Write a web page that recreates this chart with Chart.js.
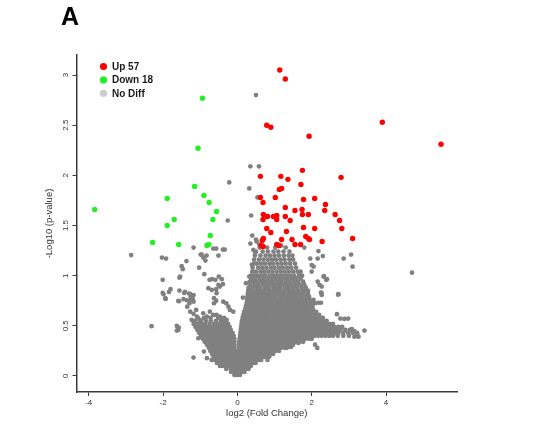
<!DOCTYPE html>
<html>
<head>
<meta charset="utf-8">
<script src="https://cdn.jsdelivr.net/npm/chart.js@4.4.1/dist/chart.umd.min.js"></script>
<style>
  html, body { margin: 0; padding: 0; background: #ffffff; }
  #wrap { position: relative; width: 550px; height: 424px; }
</style>
</head>
<body>
<div id="wrap"><canvas id="c"></canvas></div>
<script>
// ---------- DATA ----------
const panelLabel = 'A';
const xTitle = 'log2 (Fold Change)';
const yTitle = '-Log10 (p-value)';
const xTickValues = [-4, -2, 0, 2, 4];
const yTickValues = [0, 0.5, 1, 1.5, 2, 2.5, 3];
const xRange = [-4.33, 5.91];
const yRange = [-0.16, 3.2];

const legendLabels = ['Up 57', 'Down 18', 'No Diff'];
const legendColors = ['#ff0000', '#22f022', '#cccccc'];

// up-regulated [log2FC, -log10 p]
const upPoints = [
  [1.14,3.05],[1.29,2.96],[0.79,2.50],[0.90,2.48],[3.90,2.53],[1.93,2.39],[5.48,2.31],
  [1.75,2.05],[0.62,1.99],[1.17,1.99],[1.36,1.96],[2.79,1.98],[1.71,1.91],[1.13,1.86],
  [1.19,1.87],[0.62,1.78],[1.02,1.78],[0.69,1.73],[1.78,1.76],[2.08,1.77],[2.37,1.71],
  [1.29,1.68],[1.55,1.65],[1.74,1.66],[2.35,1.65],[0.70,1.61],[0.81,1.59],[0.97,1.59],
  [1.06,1.60],[1.29,1.59],[1.75,1.61],[1.91,1.61],[2.63,1.61],[0.69,1.56],[1.06,1.56],
  [1.42,1.55],[2.75,1.55],[1.78,1.48],[2.08,1.47],[0.79,1.47],[0.90,1.43],[1.32,1.44],
  [2.81,1.47],[1.84,1.39],[1.91,1.37],[1.94,1.36],[0.70,1.37],[0.67,1.35],[1.19,1.36],
  [1.47,1.36],[2.28,1.34],[3.10,1.37],[0.64,1.30],[0.69,1.29],[1.06,1.31],[1.12,1.30],
  [1.55,1.31],[1.70,1.31]
];

// down-regulated
const downPoints = [
  [-0.94,2.77],[-1.06,2.27],[-1.15,1.89],[-1.89,1.77],[-0.90,1.80],[-0.76,1.73],
  [-3.84,1.66],[-0.56,1.64],[-1.70,1.56],[-0.66,1.56],[-1.89,1.50],[-0.73,1.40],
  [-2.28,1.33],[-1.58,1.31],[-0.77,1.31],[-0.82,1.30]
];

// no difference: isolated points
const noDiffScatter = [
  [0.50,2.80],[0.35,2.09],[0.58,2.09],[-0.22,1.93],[0.32,1.87],[0.54,1.78],[0.37,1.60],
  [-0.26,1.55],[0.40,1.40],[0.50,1.36],[0.35,1.32],[0.59,1.31],[1.18,1.30],[1.80,1.28],[0.52,1.34],
  [4.70,1.03],[2.86,1.17],[3.06,1.21],[3.10,1.09],[2.71,0.81],[2.33,0.995],[2.39,0.958],
  [2.26,0.828],[2.18,0.73],[2.25,0.73],[2.68,0.616],[2.77,0.572],[2.88,0.569],[2.98,0.572],
  [3.42,0.452],[3.23,0.40],[3.15,0.446],[3.08,0.466],[2.09,0.312],[2.15,0.279],[1.37,0.289],
  [1.44,0.289],[1.64,0.329],[1.06,0.262],[2.18,1.245],[2.30,1.195],[2.16,1.17],[1.96,1.17],
  [2.00,1.105],[2.05,1.091],[2.00,1.041],[2.32,0.991],[2.41,0.965],[2.16,0.941],[2.21,0.908],
  [2.27,0.891],[2.25,0.831],[2.27,0.808],[2.72,0.815],[2.05,0.758],[2.09,0.725],[3.22,0.426],
  [3.15,0.392],[3.26,0.392],[0.97,0.276],[0.86,0.193],[0.81,0.16],[0.15,0.781],[0.23,0.925],
  [0.32,0.991],[0.39,1.108],[0.48,1.225],[0.43,1.257],
  [-2.86,1.205],[-2.03,1.18],[-1.92,1.17],[-2.01,0.958],[-1.80,0.865],[-1.84,0.838],[-2.01,0.828],
  [-1.99,0.815],[-1.93,0.768],[-2.31,0.496],[-1.63,0.499],[-1.58,0.482],[-1.59,0.459],[-1.63,0.452],
  [-1.18,0.183],[-0.82,0.177],[-0.90,0.243],[-0.69,0.16],[-1.50,1.095],[-1.37,1.145],[-1.47,1.065],
  [-1.18,1.28],[-0.96,1.21],[-0.99,1.21],[-0.92,1.18],[-0.83,1.20],[-1.03,1.08],[-0.86,1.15],
  [-0.65,1.27],[-0.57,1.27],[-0.51,1.20],[-0.39,1.26],[-0.34,1.26],[-1.54,0.99],[-1.56,0.98],
  [-0.89,1.015],[-0.75,0.958],[-0.68,0.965],[-0.59,0.958],[-0.50,0.991],[-0.39,0.915],[-0.42,0.965],
  [-1.41,0.838],[-1.30,0.821],[-1.36,0.755],[-1.57,0.745],[-1.26,0.788],[-1.20,0.765],[-1.56,0.851],
  [-1.43,0.828],[-1.27,0.815],[-1.18,0.805],[-1.59,0.748],[-1.45,0.765],[-1.94,0.775],[-0.78,0.875],
  [-0.69,0.858],[-0.57,0.865],[-0.47,0.891],[-0.56,0.825],[-0.51,0.908],[-1.25,0.758],[-1.18,0.741],
  [-1.29,0.725],[-0.63,0.775],[-0.57,0.751],[-0.63,0.725],[-0.38,0.741],[-0.30,0.725],[-0.24,0.691],
  [-0.20,0.658],[-0.11,0.641],[-1.35,0.691],[-1.27,0.641],[-1.18,0.619],[-1.11,0.658],[-1.09,0.591],
  [-1.02,0.559],[-1.23,0.559],[-0.92,0.625],[-0.82,0.591],[-0.74,0.641],[-0.65,0.608],[-0.56,0.608],
  [-0.47,0.591],[-0.42,0.559],[-0.38,0.526],[-0.29,0.559],[-1.09,0.476],[-1.01,0.442],[-0.87,0.492],
  [-0.92,0.426],[-0.78,0.459],[-1.05,0.376],[-0.96,0.392]
];

// no difference: dense cloud, read row by row as [y, x, x, ...]
const noDiffRows = [
  [0.01,-0.08,0.0,0.07],
  [0.04,-0.17,-0.08,0.01,0.1,0.19],
  [0.07,-0.3,-0.18,-0.08,0.02,0.12,0.22,0.3],
  [0.10,-0.47,-0.4,-0.33,-0.23,-0.13,-0.03,0.07,0.17,0.27,0.36],
  [0.13,-0.55,-0.48,-0.38,-0.28,-0.18,-0.08,0.02,0.12,0.22,0.32,0.42,0.49],
  [0.16,-0.6,-0.53,-0.43,-0.33,-0.23,-0.13,-0.03,0.07,0.17,0.27,0.37,0.47,0.57,0.64],
  [0.19,-0.64,-0.58,-0.48,-0.38,-0.28,-0.18,-0.08,0.02,0.12,0.22,0.32,0.42,0.52,0.62,0.72,0.8],
  [0.22,-0.68,-0.63,-0.53,-0.43,-0.33,-0.23,-0.13,-0.03,0.07,0.17,0.27,0.37,0.47,0.57,0.67,0.77,0.87,0.96],
  [0.25,-0.73,-0.68,-0.58,-0.48,-0.38,-0.28,-0.18,-0.08,0.02,0.12,0.22,0.32,0.42,0.52,0.62,0.72,0.82,0.92,1.02,1.12],
  [0.28,-0.77,-0.7,-0.63,-0.53,-0.43,-0.33,-0.23,-0.13,-0.08,0.04,0.1,0.17,0.27,0.37,0.47,0.57,0.67,0.77,0.87,0.97,1.07,1.17,1.27,1.33],
  [0.31,-0.82,-0.78,-0.68,-0.58,-0.48,-0.38,-0.28,-0.18,-0.08,0.04,0.12,0.22,0.32,0.42,0.52,0.62,0.72,0.82,0.92,1.02,1.12,1.22,1.32,1.42,1.5],
  [0.34,-0.88,-0.83,-0.73,-0.63,-0.53,-0.43,-0.33,-0.23,-0.13,-0.08,0.05,0.11,0.17,0.27,0.37,0.47,0.57,0.67,0.77,0.87,0.97,1.07,1.17,1.27,1.37,1.47,1.57,1.67,1.77],
  [0.37,-0.93,-0.88,-0.78,-0.68,-0.58,-0.48,-0.38,-0.28,-0.18,-0.08,0.06,0.12,0.22,0.32,0.42,0.52,0.62,0.72,0.82,0.92,1.02,1.12,1.22,1.32,1.42,1.52,1.62,1.72,1.82,1.92,2.0],
  [0.40,-0.98,-0.93,-0.83,-0.73,-0.63,-0.53,-0.43,-0.33,-0.23,-0.13,-0.1,0.07,0.17,0.27,0.37,0.47,0.57,0.67,0.77,0.87,0.97,1.07,1.17,1.27,1.37,1.47,1.57,1.67,1.77,1.87,1.97,2.07,2.17,2.27,2.37,2.47,2.57,2.7,2.85,3.0],
  [0.43,-1.03,-0.98,-0.88,-0.78,-0.68,-0.58,-0.48,-0.38,-0.28,-0.18,-0.13,0.08,0.14,0.22,0.32,0.42,0.52,0.62,0.72,0.82,0.92,1.02,1.12,1.22,1.32,1.42,1.52,1.62,1.72,1.82,1.92,2.02,2.12,2.22,2.32,2.42,2.52,2.62,2.72,2.85,2.98,3.1,3.22],
  [0.46,-1.08,-1.03,-0.93,-0.83,-0.73,-0.63,-0.53,-0.43,-0.33,-0.23,-0.18,0.09,0.17,0.27,0.37,0.47,0.57,0.67,0.77,0.87,0.97,1.07,1.17,1.27,1.37,1.47,1.57,1.67,1.77,1.87,1.97,2.07,2.17,2.27,2.37,2.47,2.57,2.67,2.77,2.9,3.02],
  [0.49,-1.13,-1.08,-0.98,-0.88,-0.78,-0.68,-0.58,-0.48,-0.38,-0.28,-0.21,0.1,0.16,0.22,0.32,0.42,0.52,0.62,0.72,0.82,0.92,1.02,1.12,1.22,1.32,1.42,1.52,1.62,1.72,1.82,1.92,2.02,2.12,2.22,2.32,2.42,2.52,2.62,2.72,2.82],
  [0.52,-1.18,-1.07,-0.97,-0.87,-0.75,-0.63,-0.53,-0.43,-0.33,-0.25,0.11,0.17,0.27,0.37,0.47,0.57,0.67,0.77,0.87,0.97,1.07,1.17,1.27,1.37,1.47,1.57,1.67,1.77,1.87,1.97,2.07,2.17,2.27,2.37,2.47,2.57],
  [0.55,-1.14,-0.98,-0.85,-0.72,-0.58,-0.45,-0.32,0.12,0.22,0.32,0.42,0.52,0.62,0.72,0.82,0.92,1.02,1.12,1.22,1.32,1.42,1.52,1.62,1.72,1.82,1.92,2.02,2.12,2.22,2.32,2.4],
  [0.58,-1.06,-0.9,-0.72,-0.52,-0.36,0.14,0.2,0.27,0.37,0.47,0.57,0.67,0.77,0.87,0.97,1.07,1.17,1.27,1.37,1.47,1.57,1.67,1.77,1.87,1.97,2.07,2.17,2.27,2.3],
  [0.61,0.16,0.22,0.32,0.42,0.52,0.62,0.72,0.82,0.92,1.02,1.12,1.22,1.32,1.42,1.52,1.62,1.72,1.82,1.92,2.02,2.12,2.2],
  [0.64,0.18,0.27,0.37,0.47,0.57,0.67,0.77,0.87,0.97,1.07,1.17,1.27,1.37,1.47,1.57,1.67,1.77,1.87,1.97,2.07,2.12],
  [0.67,0.21,0.32,0.42,0.52,0.62,0.72,0.82,0.92,1.02,1.12,1.22,1.32,1.42,1.52,1.62,1.72,1.82,1.92,2.03],
  [0.70,0.23,0.3,0.37,0.47,0.57,0.67,0.77,0.87,0.97,1.07,1.17,1.27,1.37,1.47,1.57,1.67,1.77,1.87,1.97,2.02],
  [0.73,0.25,0.32,0.42,0.52,0.62,0.72,0.82,0.92,1.02,1.12,1.22,1.32,1.42,1.52,1.62,1.72,1.82,1.92,1.98],
  [0.76,0.26,0.37,0.47,0.57,0.67,0.77,0.87,0.97,1.07,1.17,1.27,1.37,1.47,1.57,1.67,1.77,1.87,1.95],
  [0.79,0.27,0.33,0.43,0.52,0.62,0.71,0.82,0.92,1.02,1.13,1.22,1.33,1.42,1.53,1.62,1.73,1.84,1.93],
  [0.82,0.28,0.38,0.48,0.58,0.68,0.77,0.88,0.97,1.08,1.18,1.27,1.38,1.48,1.57,1.68,1.78,1.9],
  [0.85,0.29,0.34,0.43,0.53,0.63,0.72,0.83,0.93,1.03,1.12,1.23,1.34,1.43,1.52,1.63,1.74,1.83,1.9],
  [0.88,0.3,0.41,0.53,0.62,0.75,0.84,0.97,1.07,1.16,1.29,1.38,1.5,1.61,1.73,1.84],
  [0.91,0.35,0.47,0.57,0.69,0.8,0.9,1.02,1.12,1.23,1.34,1.45,1.56,1.68,1.8],
  [0.94,0.33,0.42,0.52,0.64,0.74,0.86,0.96,1.08,1.18,1.3,1.4,1.52,1.63,1.77],
  [0.97,0.38,0.48,0.6,0.7,0.81,0.92,1.03,1.14,1.25,1.35,1.47,1.58,1.7],
  [1.00,0.36,0.45,0.55,0.66,0.76,0.88,0.98,1.09,1.2,1.31,1.42,1.53,1.66,1.74],
  [1.04,0.4,0.5,0.62,0.72,0.83,0.94,1.05,1.16,1.27,1.38,1.5,1.62,1.7],
  [1.08,0.41,0.56,0.67,0.78,0.9,1.0,1.12,1.22,1.34,1.45,1.58],
  [1.12,0.44,0.52,0.63,0.74,0.86,0.96,1.08,1.19,1.3,1.42,1.55],
  [1.16,0.45,0.58,0.7,0.82,0.93,1.04,1.16,1.27,1.4,1.5],
  [1.20,0.47,0.62,0.76,0.88,1.0,1.12,1.25,1.38,1.48],
  [1.24,0.5,0.68,0.82,0.97,1.1,1.24,1.4],
  [1.28,0.6,0.8,1.02,1.3]
];

// ---------- BUILD ----------
const toXY = arr => arr.map(([x, y]) => ({ x, y }));
const noDiffPoints = toXY(noDiffScatter).concat(
  noDiffRows.flatMap(([y, ...xs]) => xs.map(x => ({ x, y })))
);

const FONT = '"Liberation Sans", Arial, Helvetica, sans-serif';
const AXIS_COLOR = '#3a3a3a';

const panelTitle = {
  id: 'panelTitle',
  afterDraw(chart) {
    const ctx = chart.ctx;
    ctx.save();
    ctx.font = 'bold 25px ' + FONT;
    ctx.fillStyle = '#000000';
    ctx.textAlign = 'left';
    ctx.textBaseline = 'alphabetic';
    ctx.fillText(panelLabel, 61, 24.5);
    ctx.restore();
  }
};

const insetLegend = {
  id: 'insetLegend',
  afterDatasetsDraw(chart) {
    const { ctx, chartArea } = chart;
    ctx.save();
    ctx.font = 'bold 10px ' + FONT;
    ctx.textAlign = 'left';
    ctx.textBaseline = 'middle';
    legendLabels.forEach((lab, i) => {
      const cx = chartArea.left + 27;
      const cy = chartArea.top + 11.5 + i * 13.4;
      ctx.beginPath();
      ctx.arc(cx, cy, 3.6, 0, Math.PI * 2);
      ctx.fillStyle = legendColors[i];
      ctx.fill();
      ctx.fillStyle = '#1a1a1a';
      ctx.fillText(lab, cx + 8.5, cy + 0.5);
    });
    ctx.restore();
  }
};

new Chart(document.getElementById('c'), {
  type: 'scatter',
  data: {
    datasets: [
      { label: legendLabels[0], data: toXY(upPoints), backgroundColor: '#ff0000',
        pointRadius: 2.7, pointBorderWidth: 0 },
      { label: legendLabels[1], data: toXY(downPoints), backgroundColor: '#22f022',
        pointRadius: 2.7, pointBorderWidth: 0 },
      { label: legendLabels[2], data: noDiffPoints, backgroundColor: '#808080',
        pointRadius: 2.35, pointBorderWidth: 0 }
    ]
  },
  options: {
    responsive: true,
    maintainAspectRatio: false,
    animation: false,
    events: [],
    layout: { padding: { top: 55, right: 93, left: 0, bottom: 0 } },
    plugins: { legend: { display: false }, tooltip: { enabled: false }, title: { display: false } },
    scales: {
      x: {
        type: 'linear',
        min: xRange[0], max: xRange[1],
        afterBuildTicks: s => { s.ticks = xTickValues.map(v => ({ value: v })); },
        afterFit: s => { s.height = 32; },
        grid: { display: true, drawOnChartArea: false, drawTicks: true, tickLength: 4,
                color: AXIS_COLOR, lineWidth: 1 },
        border: { display: true, color: AXIS_COLOR, width: 1.5 },
        ticks: { color: '#333333', font: { family: FONT, size: 8 }, padding: 2,
                 maxRotation: 0, minRotation: 0, callback: v => String(v) },
        title: { display: true, text: xTitle, color: '#333333',
                 font: { family: FONT, size: 9.5 }, padding: { top: 0, bottom: 5 } }
      },
      y: {
        type: 'linear',
        min: yRange[0], max: yRange[1],
        afterBuildTicks: s => { s.ticks = yTickValues.map(v => ({ value: v })); },
        afterFit: s => { s.width = 76.5; },
        grid: { display: true, drawOnChartArea: false, drawTicks: true, tickLength: 4,
                color: AXIS_COLOR, lineWidth: 1 },
        border: { display: true, color: AXIS_COLOR, width: 1.5 },
        ticks: { color: '#333333', font: { family: FONT, size: 8 }, padding: 1,
                 minRotation: 90, maxRotation: 90, crossAlign: 'center',
                 callback: v => String(v) },
        title: { display: true, text: yTitle, color: '#333333',
                 font: { family: FONT, size: 9.5 }, padding: { top: 44, bottom: 0 } }
      }
    }
  },
  plugins: [insetLegend, panelTitle]
});
</script>
</body>
</html>
